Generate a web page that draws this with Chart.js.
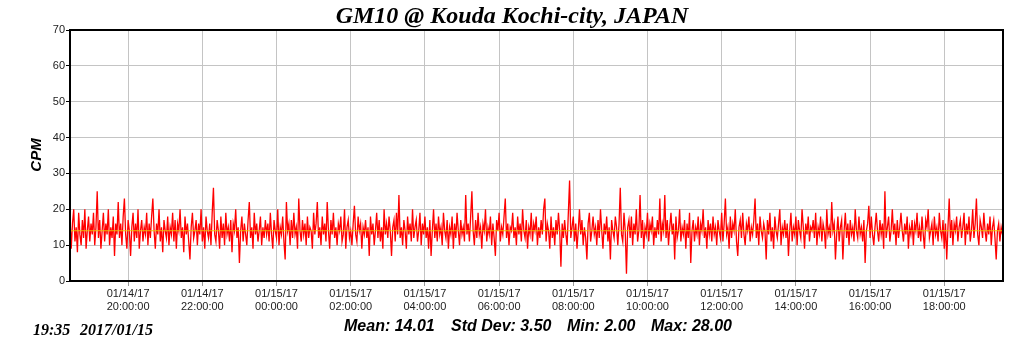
<!DOCTYPE html>
<html>
<head>
<meta charset="utf-8">
<script src="https://cdn.jsdelivr.net/npm/chart.js@4"></script>
<style>
  body { margin: 0; background: #fff; }
  #wrap { width: 1024px; height: 351px; }
</style>
</head>
<body>
<div id="wrap"><canvas id="c" width="1024" height="351"></canvas></div>
<script>
// minutes since 01/14/17 00:00
const startMinute = 1106;
const endMinute = 2615;
const stepMinutes = 2;
const tickMinutes = [1200, 1320, 1440, 1560, 1680, 1800, 1920, 2040, 2160, 2280, 2400, 2520];
const tickDates = ['01/14/17', '01/14/17', '01/15/17', '01/15/17', '01/15/17', '01/15/17', '01/15/17', '01/15/17', '01/15/17', '01/15/17', '01/15/17', '01/15/17'];
const tickTimes = ['20:00:00', '22:00:00', '00:00:00', '02:00:00', '04:00:00', '06:00:00', '08:00:00', '10:00:00', '12:00:00', '14:00:00', '16:00:00', '18:00:00'];
const meanCpm = 14.01;

// counts per minute, every 2 minutes
const cpm = [
  18,9,16,20,11,15,8,19,13,10,17,12,20,9,14,18,11,16,13,19,10,15,25,12,17,9,14,19,11,16,13,20,10,15,12,18,7,16,13,22,
  12,16,10,18,23,13,9,17,14,7,15,19,11,16,12,20,9,14,17,11,15,13,19,10,16,12,18,23,14,9,16,13,20,11,15,8,17,14,12,18,
  10,15,13,19,11,17,9,16,14,20,12,15,8,18,13,16,11,6,15,19,12,14,17,10,16,13,20,11,15,9,18,14,12,16,10,19,26,13,11,17,
  14,9,18,12,16,10,19,13,15,11,17,8,16,14,20,12,15,5,14,18,11,16,13,10,17,22,12,15,9,19,13,16,11,14,18,10,15,12,17,13,
  16,11,19,13,9,17,14,12,20,10,15,13,18,11,6,22,14,16,10,17,12,19,13,15,9,23,14,11,17,13,16,10,18,12,15,14,9,19,13,16,
  22,12,15,10,18,13,16,11,22,14,9,17,13,19,12,15,10,16,14,18,11,13,20,9,15,17,12,14,10,16,21,13,11,18,14,16,9,15,13,17,
  12,15,7,18,13,16,10,14,19,12,17,11,15,9,20,13,16,12,18,14,7,15,17,11,19,13,24,12,15,10,17,14,9,18,13,16,11,20,12,15,
  17,11,14,19,10,16,13,18,12,15,9,17,7,14,20,12,16,11,18,13,15,10,19,14,12,17,9,15,13,18,9,16,12,19,14,10,17,13,15,11,
  24,13,16,11,18,25,14,10,17,12,19,13,15,9,16,14,20,11,15,13,18,10,16,12,7,17,14,19,11,15,13,18,23,12,16,10,15,14,19,12,
  15,10,18,13,16,11,20,14,12,17,9,15,13,19,11,16,14,18,10,15,12,17,13,20,23,11,16,14,9,18,12,15,10,17,13,19,14,4,16,12,
  17,13,10,19,28,12,15,18,11,16,9,14,20,13,17,10,15,12,6,16,19,11,14,18,13,15,10,17,12,20,14,9,16,13,18,11,15,6,17,14,
  12,18,15,10,16,26,13,11,19,14,2,15,17,12,18,10,16,13,20,11,14,24,12,17,9,15,13,19,11,16,14,18,10,15,12,17,13,23,11,16,
  14,24,12,17,10,15,19,13,16,6,18,12,14,20,11,15,13,17,9,16,12,19,5,14,17,11,15,13,18,10,16,14,20,12,15,9,17,13,16,11,
  18,13,15,10,17,14,12,19,11,16,23,13,15,9,18,12,16,14,20,11,7,15,17,12,19,13,10,16,14,18,11,15,13,17,23,12,16,10,18,14,
  12,16,14,6,17,13,19,11,15,9,18,14,12,16,20,10,15,13,17,12,16,7,14,19,11,15,13,18,10,17,14,12,20,15,9,16,13,18,11,15,
  14,17,12,19,10,15,13,18,11,16,14,9,20,13,15,12,22,14,16,6,13,18,11,15,17,6,14,19,12,16,10,17,13,15,11,20,14,12,18,13,
  15,11,17,5,14,16,21,12,18,13,10,15,19,14,11,17,13,16,9,25,12,15,18,11,14,20,13,16,10,17,12,15,19,14,11,16,13,18,9,15,
  13,17,10,16,14,19,12,15,11,18,13,9,17,15,20,12,14,16,10,18,13,15,11,19,14,12,17,9,16,6,15,23,12,17,10,16,14,18,11,15,
  17,12,15,19,10,16,13,18,11,14,20,12,16,23,13,10,17,15,12,19,14,11,16,13,18,10,15,17,12,6,14,16,11,15,13
];

const points = cpm.map((v, i) => ({ x: startMinute + i * stepMinutes, y: v }));

const textPlugin = {
    id: 'texts',
    afterDraw(chart) {
        const ctx = chart.ctx;
        const a = chart.chartArea;
        ctx.save();
        // frame
        ctx.strokeStyle = '#000';
        ctx.lineWidth = 2;
        ctx.strokeRect(a.left, a.top, a.right - a.left, a.bottom - a.top);
        ctx.fillStyle = '#000';
        ctx.textBaseline = 'middle';
        // title
        ctx.font = 'italic bold 24px "Liberation Serif"';
        ctx.textAlign = 'center';
        ctx.fillText('GM10 @ Kouda Kochi-city, JAPAN', 512, 17);
        // y title
        ctx.save();
        ctx.translate(37, 155);
        ctx.rotate(-Math.PI / 2);
        ctx.font = 'italic bold 15px "Liberation Sans"';
        ctx.fillText('CPM', 0, 0);
        ctx.restore();
        // stats
        ctx.textAlign = 'left';
        ctx.font = 'italic bold 16px "Liberation Sans"';
        ctx.fillText('Mean: 14.01', 344, 327);
        ctx.fillText('Std Dev: 3.50', 451, 327);
        ctx.fillText('Min: 2.00', 567, 327);
        ctx.fillText('Max: 28.00', 651, 327);
        // timestamp
        ctx.font = 'italic bold 16px "Liberation Serif"';
        ctx.fillText('19:35', 33, 331);
        ctx.fillText('2017/01/15', 80, 331);
        ctx.restore();
    }
};

new Chart(document.getElementById('c'), {
    type: 'line',
    data: {
        datasets: [{
            label: 'Mean',
            data: [{ x: startMinute, y: meanCpm }, { x: endMinute, y: meanCpm }],
            borderColor: 'rgba(235, 200, 0, 0.9)',
            borderWidth: 1
        }, {
            label: 'CPM',
            data: points,
            borderColor: 'rgb(255, 0, 0)',
            borderWidth: 1.3
        }]
    },
    options: {
        responsive: false,
        animation: false,
        events: [],
        elements: { point: { radius: 0 }, line: { tension: 0 } },
        layout: { padding: { top: 30, right: 21, bottom: 0, left: 0 } },
        plugins: { legend: { display: false }, tooltip: { enabled: false } },
        scales: {
            x: {
                type: 'linear',
                min: startMinute,
                max: endMinute,
                afterFit(scale) { scale.height = 70; },
                afterBuildTicks(scale) { scale.ticks = tickMinutes.map(v => ({ value: v })); },
                ticks: {
                    autoSkip: false,
                    maxRotation: 0,
                    padding: 2,
                    color: '#222',
                    font: { family: 'Liberation Sans', size: 11, lineHeight: 1.15 },
                    callback(value, i) { return [tickDates[i], tickTimes[i]]; }
                },
                grid: { color: '#c4c4c4', tickLength: 5, tickColor: '#999' },
                border: { color: '#000', width: 2 }
            },
            y: {
                min: 0,
                max: 70,
                afterFit(scale) { scale.width = 70; },
                ticks: {
                    stepSize: 10,
                    padding: 1,
                    color: '#222',
                    font: { family: 'Liberation Sans', size: 11 }
                },
                grid: { color: '#c4c4c4', tickLength: 4, tickColor: '#000' },
                border: { color: '#000', width: 2 }
            }
        }
    },
    plugins: [textPlugin]
});
</script>
</body>
</html>
